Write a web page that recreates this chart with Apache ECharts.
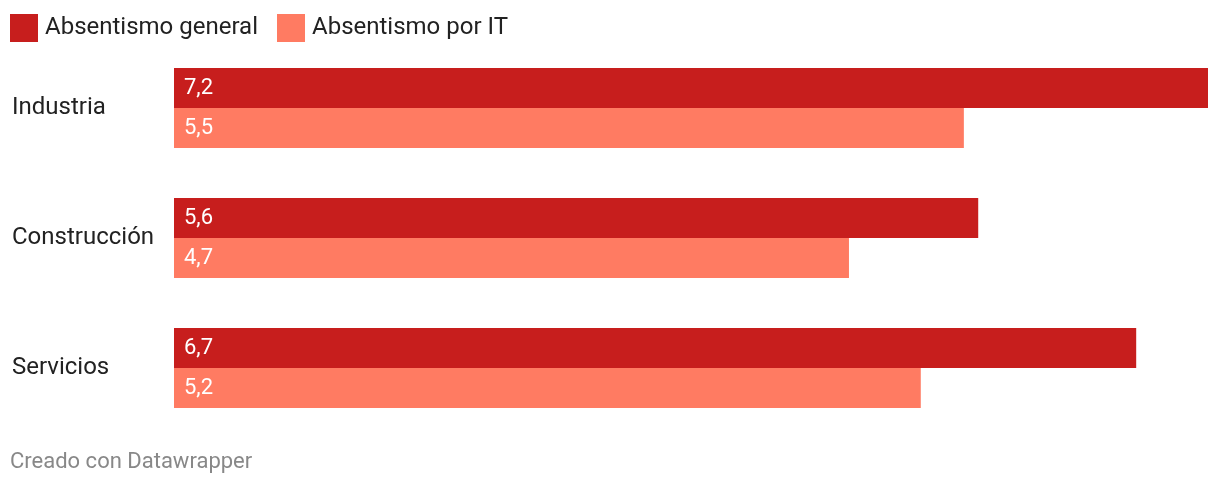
<!DOCTYPE html>
<html>
<head>
<meta charset="utf-8">
<script src="https://cdn.jsdelivr.net/npm/echarts@6/dist/echarts.min.js"></script>
<style>
  html, body { margin: 0; padding: 0; background: #fff; }
  #chart { width: 1220px; height: 486px; }
</style>
</head>
<body>
<div id="chart"></div>
<script>
var categories = ['Industria', 'Construcción', 'Servicios'];
var seriesNames = ['Absentismo general', 'Absentismo por IT'];
var general = [7.2, 5.6, 6.7];
var porIT = [5.5, 4.7, 5.2];

var chart = echarts.init(document.getElementById('chart'));
var fmt = function (p) { return String(p.value).replace('.', ','); };

chart.setOption({
  animation: false,
  textStyle: { fontFamily: 'Roboto' },
  legend: {
    left: 10,
    top: 14,
    padding: 0,
    itemWidth: 28,
    itemHeight: 28,
    itemGap: 19,
    icon: 'rect',
    textStyle: { fontSize: 24, color: '#222', fontFamily: 'Roboto', padding: [0, 0, 0, 2] },
    data: seriesNames
  },
  grid: { left: 174, right: 12, top: 43, height: 390, containLabel: false },
  xAxis: {
    type: 'value',
    min: 0,
    max: 7.2,
    show: false
  },
  yAxis: {
    type: 'category',
    inverse: true,
    data: categories,
    axisLine: { show: false },
    axisTick: { show: false },
    splitLine: { show: false },
    axisLabel: {
      align: 'left',
      margin: 162,
      fontSize: 24,
      color: '#222',
      fontFamily: 'Roboto',
      padding: [4, 0, 0, 0]
    }
  },
  series: [
    {
      name: seriesNames[0],
      type: 'bar',
      data: general,
      barWidth: 40,
      barGap: '0%',
      itemStyle: { color: '#c71e1d' },
      label: {
        show: true,
        position: 'insideLeft',
        distance: 10,
        color: '#fff',
        fontSize: 22,
        fontFamily: 'Roboto',
        padding: [3, 0, 0, 0],
        formatter: fmt
      }
    },
    {
      name: seriesNames[1],
      type: 'bar',
      data: porIT,
      barWidth: 40,
      barGap: '0%',
      itemStyle: { color: '#ff7b62' },
      label: {
        show: true,
        position: 'insideLeft',
        distance: 10,
        color: '#fff',
        fontSize: 22,
        fontFamily: 'Roboto',
        padding: [3, 0, 0, 0],
        formatter: fmt
      }
    }
  ],
  graphic: [{
    type: 'text',
    left: 10,
    top: 451,
    style: {
      text: 'Creado con Datawrapper',
      fill: '#888',
      fontSize: 22,
      fontFamily: 'Roboto'
    }
  }]
});
</script>
</body>
</html>
